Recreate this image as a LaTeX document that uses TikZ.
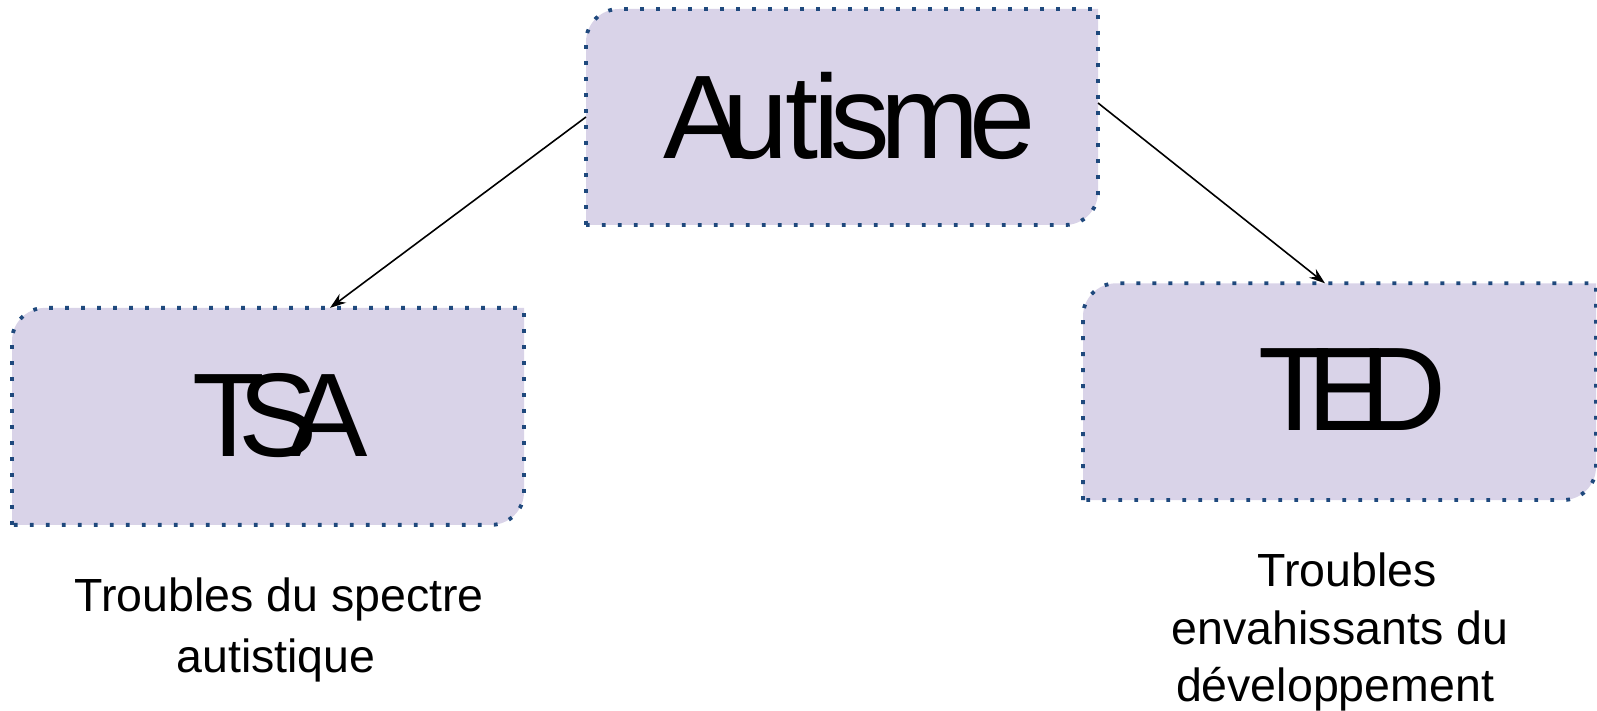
\documentclass[tikz,border=0pt]{standalone}
\usepackage{fontspec}
\setmainfont{Liberation Sans}
\usetikzlibrary{arrows.meta}
\definecolor{boxfill}{RGB}{217,211,232}
\definecolor{dotblue}{RGB}{31,73,125}
\tikzset{
  holder/.style={inner sep=0pt,outer sep=0pt,draw=none},
  boxline/.style={fill=boxfill,draw=dotblue,line width=3.8pt,dash pattern=on 3.8pt off 12.2pt},
  bigtext/.style={inner sep=0pt,outer sep=0pt,anchor=base west,font=\fontsize{119}{119}\selectfont},
  labeltext/.style={inner sep=0pt,outer sep=0pt,anchor=base,font=\fontsize{46.5}{50}\selectfont},
  conn/.style={line width=1.6pt,-{Stealth[length=16pt,width=11pt]}}
}
\newcommand\snipbox[1]{\draw[boxline] (#1.south west) -- ([yshift=-33pt]#1.north west) arc[start angle=180,end angle=90,radius=33pt] -- (#1.north east) -- ([yshift=33pt]#1.south east) arc[start angle=0,end angle=-90,radius=33pt] -- cycle;}
\begin{document}
\begin{tikzpicture}[x=1pt,y=1pt]
\useasboundingbox (0,0) rectangle (1597,711);
\node[holder,minimum width=512pt,minimum height=216pt] (aut) at (842,594) {};
\node[holder,minimum width=512pt,minimum height=217pt] (tsa) at (268,294.6) {};
\node[holder,minimum width=513pt,minimum height=216.7pt] (ted) at (1339.5,319.3) {};
\snipbox{aut}
\snipbox{tsa}
\snipbox{ted}
\node[bigtext] (autT) at (663.3,552.7) {A\kern-20pt u\kern-3pt t\kern-5pt i\kern-10pt s\kern-9pt m\kern-11pt e};
\node[bigtext] (tsaT) at (192.3,254.3) {T\kern-26.2pt S\kern-30pt A};
\node[bigtext] (tedT) at (1258,280) {T\kern-22.8pt E\kern-26.7pt D};
\draw[conn] (aut.west) -- ([xshift=62pt]tsa.north);
\draw[conn] ([yshift=14pt]aut.east) -- ([xshift=-14.5pt]ted.north);
\node[labeltext] (l1a) at (279,99) {Troubles du spectre};
\node[labeltext] (l1b) at (276,38) {autistique};
\node[labeltext] (l2a) at (1347,124) {Troubles};
\node[labeltext] (l2b) at (1340,66) {envahissants du};
\node[labeltext] (l2c) at (1335,9) {développement};
\end{tikzpicture}
\end{document}
